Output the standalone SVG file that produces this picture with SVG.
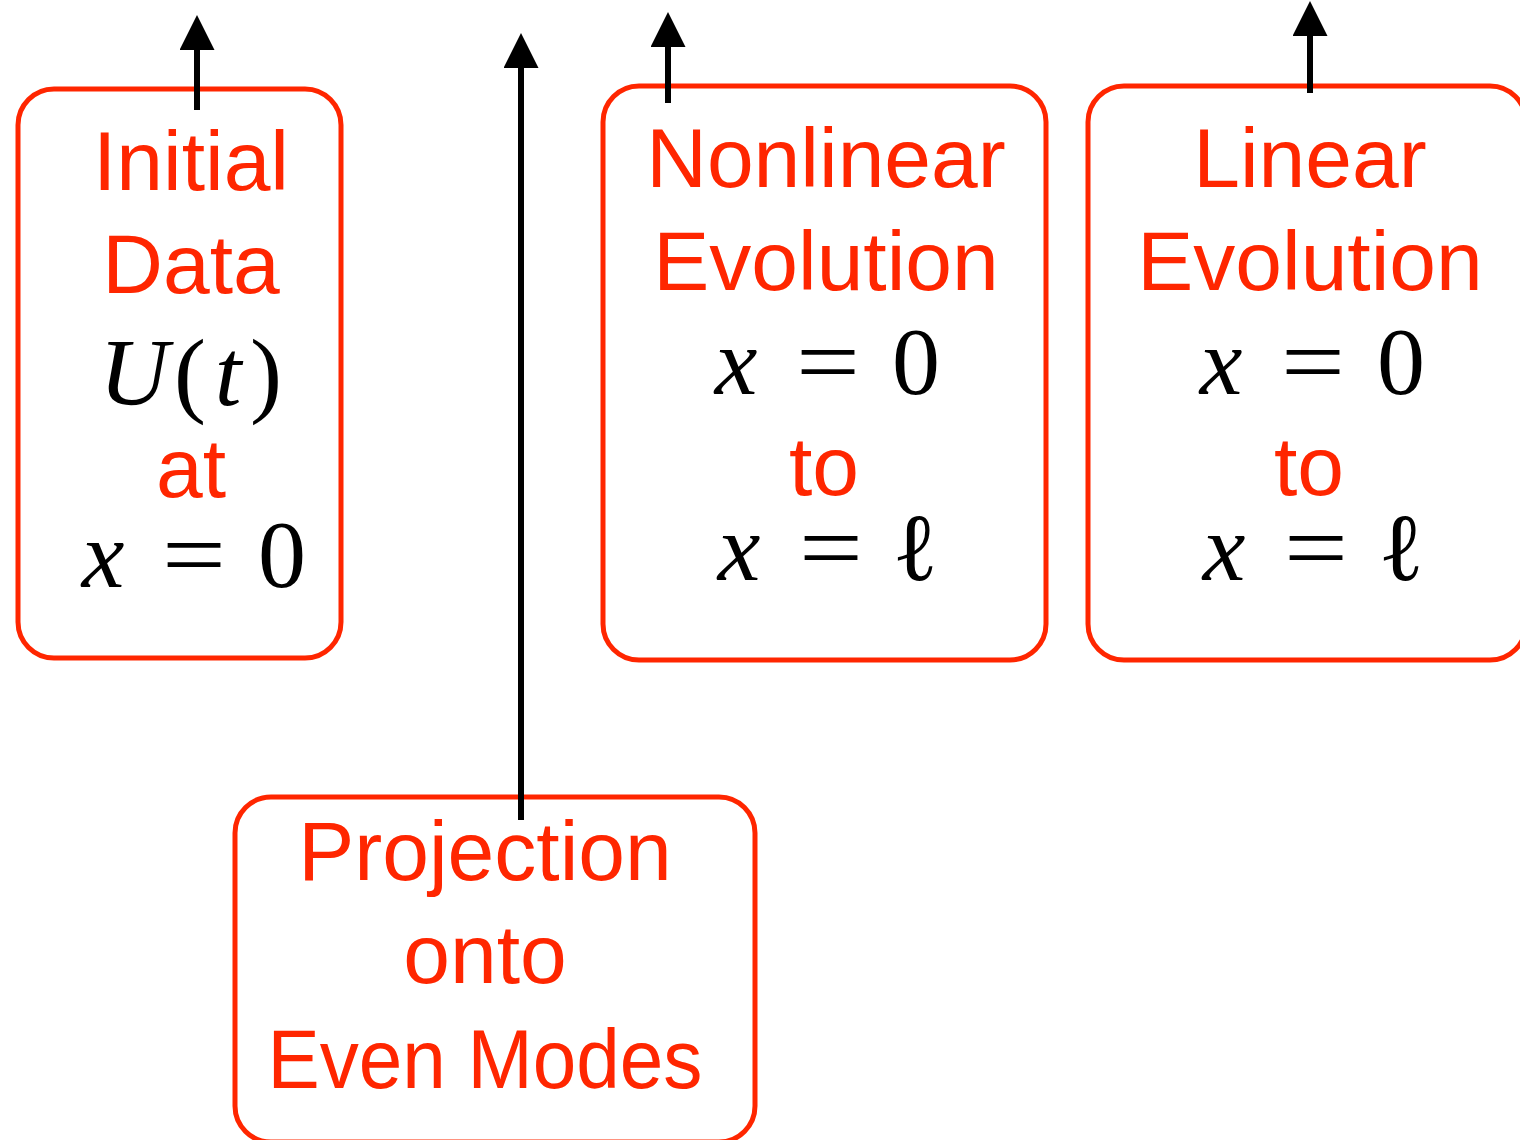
<svg xmlns="http://www.w3.org/2000/svg" width="1520" height="1140" viewBox="0 0 1520 1140">
<style>
.box{fill:none;stroke:#ff2600;stroke-width:5}
.lbl{font-family:"Liberation Sans",Arial,sans-serif;font-size:84px;fill:#ff2600;text-anchor:middle}
.m{font-family:"Liberation Serif","DejaVu Serif",serif;font-size:96px;fill:#000;text-anchor:middle}
.mi{font-style:italic}
.conn{stroke:#000;stroke-width:6;fill:none;marker-end:url(#ah)}
</style>
<defs>
<marker id="ah" markerUnits="userSpaceOnUse" viewBox="0 0 35 35" markerWidth="35" markerHeight="35" refX="0" refY="17.5" orient="auto">
<path d="M0,0 L35,17.5 L0,35 z" fill="#000"/>
</marker>
</defs>
<rect width="1520" height="1140" fill="#fff"/>
<g id="node-initial">
<rect class="box" x="18" y="89" width="323" height="569" rx="36"/>
<text class="lbl" x="191" y="190">Initial</text>
<text class="lbl" x="191" y="293">Data</text>
<text class="m mi" x="134" y="405" font-size="100">U</text>
<text class="m" x="190" y="405" font-size="100">(</text>
<text class="m mi" x="228" y="405" font-size="100">t</text>
<text class="m" x="266" y="405" font-size="100">)</text>
<text class="lbl" x="191" y="497">at</text>
<text class="m mi" x="103" y="587">x</text>
<text class="m" x="194" y="587" textLength="64" lengthAdjust="spacingAndGlyphs">=</text>
<text class="m" x="282" y="587">0</text>
</g>
<g id="node-nonlinear">
<rect class="box" x="603" y="86" width="443" height="574" rx="36"/>
<text class="lbl" x="826" y="187">Nonlinear</text>
<text class="lbl" x="826" y="290">Evolution</text>
<text class="m mi" x="736" y="394">x</text>
<text class="m" x="828" y="394" textLength="64" lengthAdjust="spacingAndGlyphs">=</text>
<text class="m" x="916" y="394">0</text>
<text class="lbl" x="824" y="495">to</text>
<text class="m mi" x="739" y="580">x</text>
<text class="m" x="831" y="580" textLength="64" lengthAdjust="spacingAndGlyphs">=</text>
<text class="m" x="915" y="580">ℓ</text>
</g>
<g id="node-linear">
<rect class="box" x="1088" y="86" width="438" height="574" rx="36"/>
<text class="lbl" x="1310" y="187">Linear</text>
<text class="lbl" x="1310" y="290">Evolution</text>
<text class="m mi" x="1221" y="394">x</text>
<text class="m" x="1313" y="394" textLength="64" lengthAdjust="spacingAndGlyphs">=</text>
<text class="m" x="1401" y="394">0</text>
<text class="lbl" x="1309" y="495">to</text>
<text class="m mi" x="1224" y="580">x</text>
<text class="m" x="1316" y="580" textLength="64" lengthAdjust="spacingAndGlyphs">=</text>
<text class="m" x="1401" y="580">ℓ</text>
</g>
<g id="node-projection">
<rect class="box" x="235" y="797" width="520" height="345" rx="36"/>
<text class="lbl" x="485" y="880">Projection</text>
<text class="lbl" x="485" y="983">onto</text>
<text class="lbl" x="485" y="1088" textLength="435" lengthAdjust="spacingAndGlyphs">Even Modes</text>
</g>
<g id="connectors">
<line class="conn" x1="197" y1="110" x2="197" y2="50"/>
<line class="conn" x1="521" y1="820" x2="521" y2="68"/>
<line class="conn" x1="668" y1="103" x2="668" y2="47"/>
<line class="conn" x1="1310" y1="93" x2="1310" y2="36"/>
</g>
</svg>
